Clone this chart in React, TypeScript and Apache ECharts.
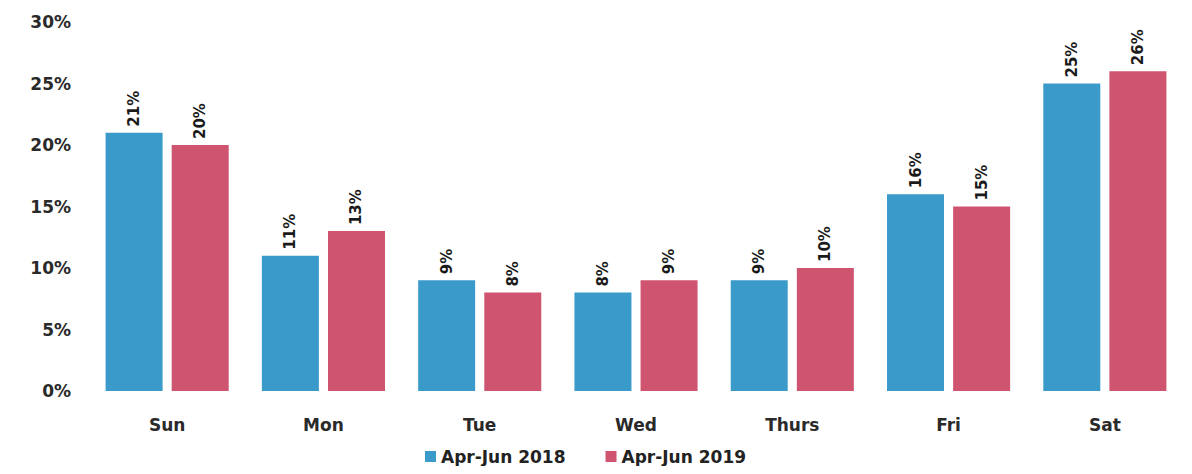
import React, { useEffect, useRef } from "react";
import * as echarts from "echarts";

const categories = ["Sun", "Mon", "Tue", "Wed", "Thurs", "Fri", "Sat"];
const series2018 = [21, 11, 9, 8, 9, 16, 25];
const series2019 = [20, 13, 8, 9, 10, 15, 26];
const seriesNames = ["Apr-Jun 2018", "Apr-Jun 2019"];
const yTicks = { min: 0, max: 30, interval: 5 };

const FONT = "'DejaVu Sans', Verdana, sans-serif";

export default function App() {
  const ref = useRef<HTMLDivElement>(null);
  useEffect(() => {
    if (!ref.current) return;
    const chart = echarts.init(ref.current, undefined, { renderer: "svg" });
    const label = {
      show: true,
      position: "top",
      rotate: 90,
      align: "left",
      verticalAlign: "middle",
      distance: 6,
      formatter: (p: any) => `${p.value}%`,
      fontFamily: FONT,
      fontWeight: "bold",
      fontSize: 15,
      color: "#1a1a1a",
    };
    chart.setOption({
      animation: false,
      backgroundColor: "#ffffff",
      grid: { left: 89, right: 9, top: 22, bottom: 83, containLabel: false },
      legend: {
        data: seriesNames,
        bottom: 4,
        left: 420,
        icon: "rect",
        itemWidth: 11,
        itemHeight: 11,
        itemGap: 40,
        textStyle: { fontFamily: FONT, fontWeight: "bold", fontSize: 17, color: "#222" },
      },
      xAxis: {
        type: "category",
        data: categories,
        axisLine: { show: false },
        axisTick: { show: false },
        axisLabel: {
          fontFamily: FONT,
          fontSize: 17,
          fontWeight: 600,
          color: "#2a2a2a",
          margin: 25,
        },
      },
      yAxis: {
        type: "value",
        min: yTicks.min,
        max: yTicks.max,
        interval: yTicks.interval,
        splitLine: { show: false },
        axisLine: { show: false },
        axisTick: { show: false },
        axisLabel: {
          formatter: "{value}%",
          fontFamily: FONT,
          fontSize: 17,
          fontWeight: "bold",
          color: "#2a2a2a",
          margin: 18,
        },
      },
      series: [
        {
          name: seriesNames[0],
          type: "bar",
          data: series2018,
          barWidth: 57,
          barGap: "16%",
          itemStyle: { color: "#3a9bca" },
          label,
        },
        {
          name: seriesNames[1],
          type: "bar",
          data: series2019,
          barWidth: 57,
          itemStyle: { color: "#cf5470" },
          label,
        },
      ],
    });
    return () => chart.dispose();
  }, []);
  return <div ref={ref} style={{ width: 1192, height: 474, margin: -8 }} />;
}
